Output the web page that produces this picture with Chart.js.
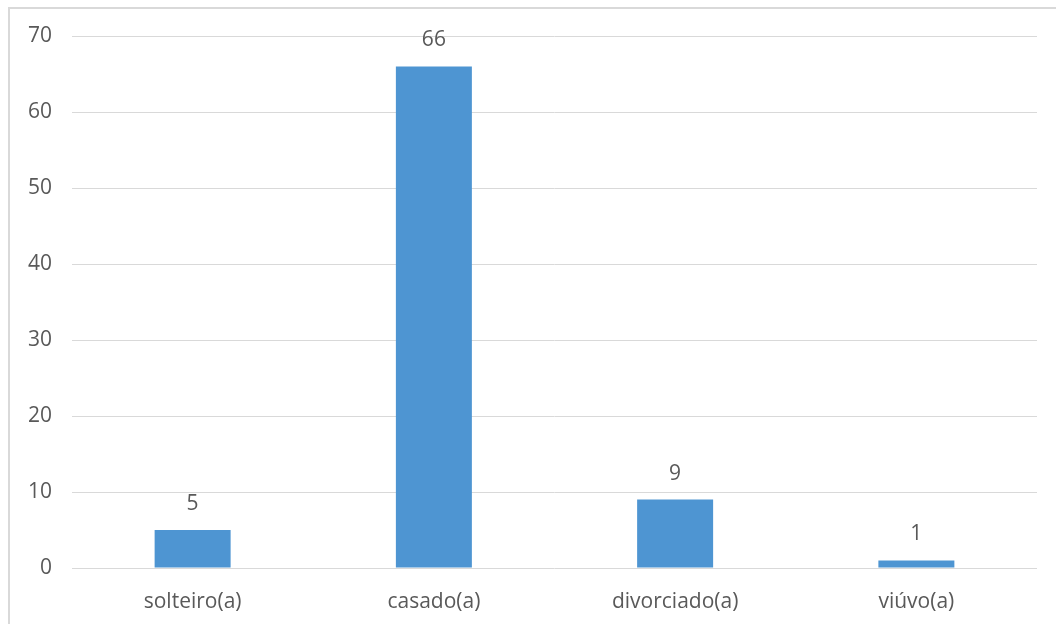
<!DOCTYPE html>
<html>
<head>
<meta charset="utf-8">
<script src="https://cdn.jsdelivr.net/npm/chart.js@4"></script>
<style>
  html, body { margin: 0; padding: 0; background: #fff; }
  #wrap { width: 1056px; height: 624px; position: relative; }
</style>
</head>
<body>
<div id="wrap"><canvas id="chart"></canvas></div>
<script>
const categories = ['solteiro(a)', 'casado(a)', 'divorciado(a)', 'viúvo(a)'];
const counts = [5, 66, 9, 1];
const yTicks = [0, 10, 20, 30, 40, 50, 60, 70];

const TEXT_COLOR = '#595959';
const GRID_COLOR = '#d9d9d9';
const BAR_COLOR = '#4e95d2';
const FONT = "'Open Sans', 'DejaVu Sans', sans-serif";

Chart.defaults.font.family = FONT;
Chart.defaults.color = TEXT_COLOR;

// outer frame (left and top edge of the chart box)
const framePlugin = {
  id: 'frame',
  beforeDraw(chart) {
    const { ctx } = chart;
    ctx.save();
    ctx.strokeStyle = GRID_COLOR;
    ctx.lineWidth = 2;
    ctx.beginPath();
    ctx.moveTo(1056, 8);
    ctx.lineTo(9, 8);
    ctx.lineTo(9, 624);
    ctx.stroke();
    ctx.restore();
  }
};

// value labels above each bar
const valueLabels = {
  id: 'valueLabels',
  afterDatasetsDraw(chart) {
    const { ctx } = chart;
    const meta = chart.getDatasetMeta(0);
    ctx.save();
    ctx.font = '21px ' + FONT;
    ctx.fillStyle = TEXT_COLOR;
    ctx.textAlign = 'center';
    ctx.textBaseline = 'middle';
    meta.data.forEach((bar, i) => {
      ctx.fillText(String(counts[i]), bar.x, bar.y - 26);
    });
    ctx.restore();
  }
};

new Chart(document.getElementById('chart'), {
  type: 'bar',
  data: {
    labels: categories,
    datasets: [{
      data: counts,
      backgroundColor: BAR_COLOR,
      categoryPercentage: 1,
      barPercentage: 0.315,
    }]
  },
  options: {
    responsive: true,
    maintainAspectRatio: false,
    animation: false,
    layout: { padding: { top: 36, right: 19, bottom: 0, left: 0 } },
    plugins: {
      legend: { display: false },
      tooltip: { enabled: false },
    },
    scales: {
      x: {
        grid: { display: false },
        border: { display: false },
        ticks: { font: { size: 21 }, padding: 13, color: TEXT_COLOR },
        afterFit(scale) { scale.height = 56; },
      },
      y: {
        min: 0,
        max: 70,
        afterBuildTicks(scale) { scale.ticks = yTicks.map(v => ({ value: v })); },
        grid: { color: GRID_COLOR, lineWidth: 1, drawTicks: false },
        border: { display: false },
        ticks: { font: { size: 21 }, padding: 20, color: TEXT_COLOR },
        afterFit(scale) { scale.width = 72; },
      }
    }
  },
  plugins: [framePlugin, valueLabels]
});
</script>
</body>
</html>
